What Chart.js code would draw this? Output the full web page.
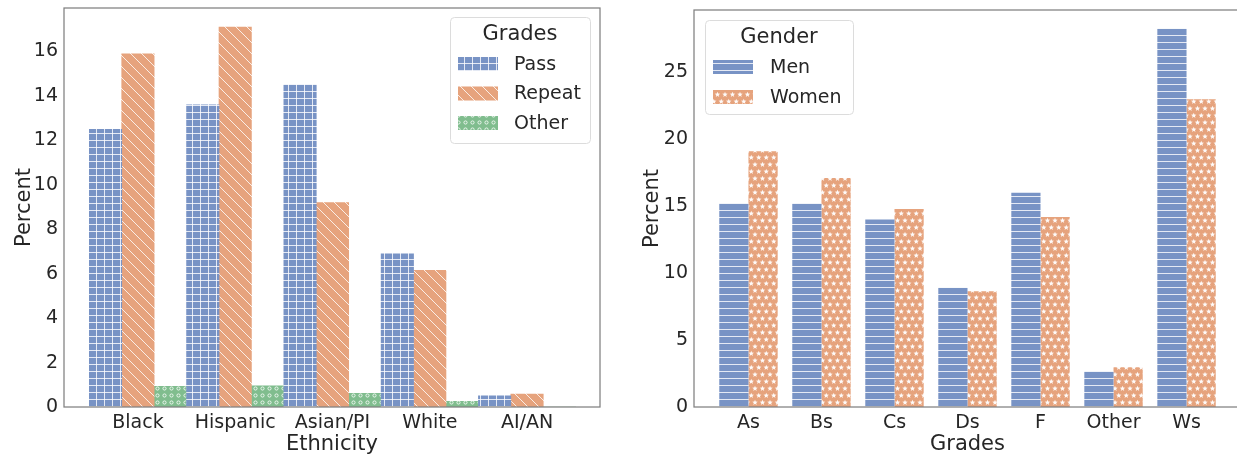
<!DOCTYPE html>
<html>
<head>
<meta charset="utf-8">
<script src="https://cdn.jsdelivr.net/npm/chart.js@4.4.0/dist/chart.umd.min.js"></script>
<style>
  html, body { margin: 0; padding: 0; background: #fff; overflow: hidden; }
  #wrap { position: relative; width: 1237px; height: 457px; overflow: hidden; }
  canvas { position: absolute; top: 0; }
</style>
</head>
<body>
<div id="wrap">
  <canvas id="left" width="620" height="457" style="left:0"></canvas>
  <canvas id="right" width="640" height="457" style="left:620px"></canvas>
</div>
<script>
// left panel: grades by ethnicity
const ethnicities = ['Black', 'Hispanic', 'Asian/PI', 'White', 'AI/AN'];
const passPct = [12.5, 13.6, 14.5, 6.9, 0.5];
const repeatPct = [15.9, 17.1, 9.2, 6.15, 0.58];
const otherPct = [0.93, 0.95, 0.62, 0.26, 0];
const leftTicks = [0, 2, 4, 6, 8, 10, 12, 14, 16];

// right panel: grades by gender
const grades = ['As', 'Bs', 'Cs', 'Ds', 'F', 'Other', 'Ws'];
const menPct = [15.2, 15.2, 14.0, 8.9, 16.0, 2.65, 28.25];
const womenPct = [19.1, 17.1, 14.8, 8.65, 14.2, 2.97, 23.0];
const rightTicks = [0, 5, 10, 15, 20, 25];

const FONT = 'DejaVu Sans';
const TEXT = '#262626';
const BLUE = '#7893c5';
const ORANGE = '#e6a37d';
const GREEN = '#80bd8e';

function hatch(bg, w, h, draw) {
    const c = document.createElement('canvas');
    c.width = w;
    c.height = h;
    const g = c.getContext('2d');
    g.fillStyle = bg;
    g.fillRect(0, 0, w, h);
    g.strokeStyle = 'rgba(255,255,255,0.8)';
    g.fillStyle = 'rgba(255,255,255,0.95)';
    g.lineWidth = 1;
    draw(g, w, h);
    return g.createPattern(c, 'repeat');
}

const plusHatch = hatch(BLUE, 8, 7, (g, w, h) => {
    g.beginPath();
    g.moveTo(0.5, 0); g.lineTo(0.5, h);
    g.moveTo(0, 0.5); g.lineTo(w, 0.5);
    g.stroke();
});
const backHatch = hatch(ORANGE, 11, 11, (g, w, h) => {
    g.beginPath();
    g.moveTo(-1, -1); g.lineTo(w + 1, h + 1);
    g.moveTo(w - 1, -1); g.lineTo(w + 1, 1);
    g.moveTo(-1, h - 1); g.lineTo(1, h + 1);
    g.stroke();
});
const ringHatch = hatch(GREEN, 7, 7, (g) => {
    g.beginPath();
    g.arc(3.5, 3.5, 1.6, 0, Math.PI * 2);
    g.stroke();
});
const lineHatch = hatch(BLUE, 8, 7, (g, w) => {
    g.beginPath();
    g.moveTo(0, 0.5); g.lineTo(w, 0.5);
    g.stroke();
});
function star(g, cx, cy, r) {
    g.beginPath();
    for (let i = 0; i < 10; i++) {
        const rr = i % 2 ? r * 0.42 : r;
        const a = -Math.PI / 2 + i * Math.PI / 5;
        g.lineTo(cx + rr * Math.cos(a), cy + rr * Math.sin(a));
    }
    g.closePath();
    g.fill();
}
const starHatch = hatch(ORANGE, 15, 14, (g) => {
    star(g, 3.75, 3.6, 2.9);
    star(g, 11.25, 3.6, 2.9);
    star(g, 7.5, 10.6, 2.9);
    star(g, 0, 10.6, 2.9);
    star(g, 15, 10.6, 2.9);
});

// frame round the plot area
const framePlugin = {
    id: 'frame',
    afterDraw(chart) {
        const a = chart.chartArea;
        const ctx = chart.ctx;
        ctx.save();
        ctx.strokeStyle = '#808080';
        ctx.lineWidth = 1.25;
        ctx.strokeRect(a.left, a.top, a.right - a.left, a.bottom - a.top);
        ctx.restore();
    },
};

// legend drawn inside the plot area, matplotlib style
const boxLegend = {
    id: 'boxLegend',
    afterDraw(chart, args, opts) {
        const ctx = chart.ctx;
        ctx.save();
        ctx.fillStyle = 'rgba(255,255,255,0.85)';
        ctx.strokeStyle = '#dcdcdc';
        ctx.lineWidth = 1;
        ctx.beginPath();
        ctx.roundRect(opts.x + 0.5, opts.y + 0.5, opts.w, opts.h, 4);
        ctx.fill();
        ctx.stroke();

        ctx.fillStyle = TEXT;
        ctx.textBaseline = 'middle';
        ctx.textAlign = 'center';
        ctx.font = '21px "' + FONT + '"';
        ctx.fillText(opts.title, opts.x + opts.w / 2, opts.y + 18);

        ctx.textAlign = 'left';
        ctx.font = '19px "' + FONT + '"';
        chart.data.datasets.forEach((ds, i) => {
            const cy = opts.y + opts.firstRow + i * opts.rowGap;
            ctx.fillStyle = ds.backgroundColor;
            ctx.fillRect(opts.x + 8, cy - 7, 40, 14);
            ctx.fillStyle = TEXT;
            ctx.fillText(ds.label, opts.textX, cy + 1);
        });
        ctx.restore();
    },
};

function makeChart(id, cfg) {
    return new Chart(document.getElementById(id), {
        type: 'bar',
        data: {
            datasets: cfg.series.map((s) => ({
                label: s.label,
                data: s.values.map((v, i) => ({ x: i, y: v })),
                backgroundColor: s.fill,
                borderWidth: 0,
                categoryPercentage: cfg.groupWidth,
                barPercentage: 1,
            })),
        },
        options: {
            responsive: false,
            animation: false,
            layout: { padding: cfg.padding },
            plugins: {
                legend: { display: false },
                tooltip: { enabled: false },
                boxLegend: cfg.legend,
            },
            scales: {
                x: {
                    type: 'linear',
                    offset: false,
                    min: cfg.xMin,
                    max: cfg.xMax,
                    grid: { display: false, drawTicks: false },
                    border: { display: false },
                    afterBuildTicks: (s) => {
                        s.ticks = cfg.categories.map((c, i) => ({ value: i }));
                    },
                    afterFit: (s) => {
                        s.height = 50;
                        s.paddingLeft = 0;
                        s.paddingRight = 0;
                    },
                    ticks: {
                        padding: 5,
                        maxRotation: 0,
                        autoSkip: false,
                        color: TEXT,
                        font: { family: FONT, size: 19 },
                        callback: (v) => cfg.categories[v],
                    },
                    title: {
                        display: true,
                        text: cfg.xTitle,
                        color: TEXT,
                        font: { family: FONT, size: 21 },
                        padding: { top: -4, bottom: 0 },
                    },
                },
                y: {
                    min: 0,
                    max: cfg.yMax,
                    grid: { display: false, drawTicks: false },
                    border: { display: false },
                    afterBuildTicks: (s) => {
                        s.ticks = cfg.yTicks.map((v) => ({ value: v }));
                    },
                    afterFit: (s) => {
                        s.width = cfg.yWidth;
                        s.paddingTop = 0;
                        s.paddingBottom = 0;
                    },
                    ticks: {
                        padding: 6,
                        color: TEXT,
                        font: { family: FONT, size: 19 },
                    },
                    title: {
                        display: true,
                        text: 'Percent',
                        color: TEXT,
                        font: { family: FONT, size: 21 },
                        padding: { top: cfg.yTitlePad, bottom: 0 },
                    },
                },
            },
        },
        plugins: [framePlugin, boxLegend],
    });
}

makeChart('left', {
    categories: ethnicities,
    series: [
        { label: 'Pass', values: passPct, fill: plusHatch },
        { label: 'Repeat', values: repeatPct, fill: backHatch },
        { label: 'Other', values: otherPct, fill: ringHatch },
    ],
    groupWidth: 1,
    xMin: -0.76,
    xMax: 4.75,
    yMax: 17.96,
    yTicks: leftTicks,
    yWidth: 64,
    yTitlePad: 12,
    padding: { left: 0, top: 8, right: 20, bottom: 0 },
    xTitle: 'Ethnicity',
    legend: { x: 450, y: 17, w: 140, h: 126, title: 'Grades', firstRow: 47, rowGap: 29.5, textX: 514 },
});

makeChart('right', {
    categories: grades,
    series: [
        { label: 'Men', values: menPct, fill: lineHatch },
        { label: 'Women', values: womenPct, fill: starHatch },
    ],
    groupWidth: 0.8,
    xMin: -0.746,
    xMax: 6.746,
    yMax: 29.66,
    yTicks: rightTicks,
    yWidth: 74,
    yTitlePad: 20,
    padding: { left: 0, top: 10, right: 19, bottom: 0 },
    xTitle: 'Grades',
    legend: { x: 85, y: 20, w: 148, h: 94, title: 'Gender', firstRow: 47, rowGap: 30, textX: 150 },
});
</script>
</body>
</html>
